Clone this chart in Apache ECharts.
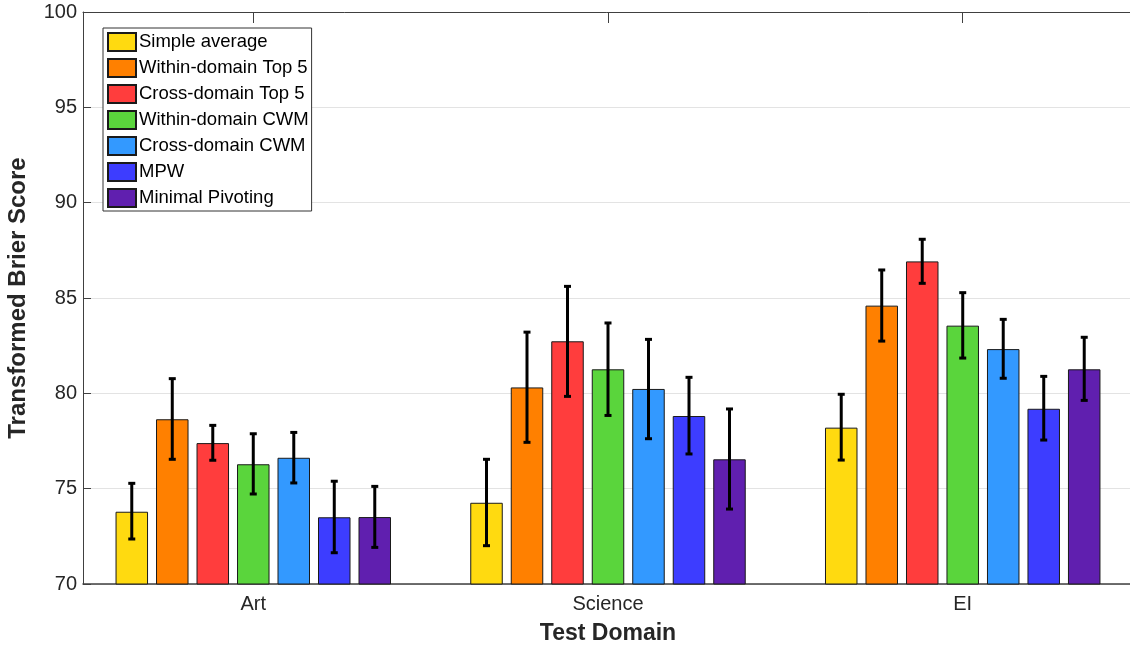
<!DOCTYPE html>
<html>
<head>
<meta charset="utf-8">
<script src="https://cdn.jsdelivr.net/npm/echarts@6/dist/echarts.min.js"></script>
<style>
  html, body { margin: 0; padding: 0; background: #fff; }
  #chart { width: 1130px; height: 648px; }
</style>
</head>
<body>
<div id="chart"></div>
<script>
// 数据
const domains = ['Art', 'Science', 'EI'];
const methods = ['Simple average', 'Within-domain Top 5', 'Cross-domain Top 5',
    'Within-domain CWM', 'Cross-domain CWM', 'MPW', 'Minimal Pivoting'];
const colors = ['#FFDA10', '#FF8000', '#FF3D3D', '#5AD53C', '#3399FF', '#3D3DFF', '#601FAF'];

// 每行一个方法，每列一个领域
const meanScores = [
    [73.79, 74.26, 78.20],
    [78.64, 80.31, 84.60],
    [77.39, 82.73, 86.92],
    [76.28, 81.26, 83.55],
    [76.62, 80.23, 82.32],
    [73.50, 78.81, 79.19],
    [73.51, 76.54, 81.26]
];
const lowerBounds = [
    [72.36, 72.01, 76.50],
    [76.54, 77.43, 82.74],
    [76.49, 79.84, 85.77],
    [74.72, 78.84, 81.85],
    [75.30, 77.62, 80.79],
    [71.64, 76.82, 77.55],
    [71.92, 73.93, 79.63]
];
const upperBounds = [
    [75.28, 76.54, 79.95],
    [80.77, 83.21, 86.47],
    [78.32, 85.61, 88.08],
    [77.88, 83.69, 85.28],
    [77.95, 82.83, 83.88],
    [75.39, 80.84, 80.89],
    [75.12, 79.18, 82.94]
];
const yTicks = [70, 75, 80, 85, 90, 95, 100];

// 样式
const FONT = 'Liberation Sans, Arial, Helvetica, sans-serif';
const AXIS_COLOR = '#404040';
const BAR_W = 32.5;
const BAR_GAP = 8;
const X_POS = domains.map((d, i) => i + 1);

const chart = echarts.init(document.getElementById('chart'));

const barSeries = methods.map((m, i) => ({
    name: m,
    type: 'bar',
    barWidth: BAR_W,
    barGap: (BAR_GAP / BAR_W * 100).toFixed(1) + '%',
    data: X_POS.map((x, j) => [x, meanScores[i][j]]),
    itemStyle: { color: colors[i], borderColor: '#1a1a1a', borderWidth: 1 },
    emphasis: { disabled: true },
    z: 2
}));

// 误差线：自定义系列，按柱子的位置偏移
const errSeries = methods.map((m, i) => {
    const offset = (i - (methods.length - 1) / 2) * (BAR_W + BAR_GAP);
    return {
        name: 'err-' + i,
        type: 'custom',
        data: X_POS.map((x, j) => [x, lowerBounds[i][j], upperBounds[i][j]]),
        encode: { x: 0, y: [1, 2] },
        z: 5,
        silent: true,
        renderItem: (params, api) => {
            const lo = api.coord([api.value(0), api.value(1)]);
            const hi = api.coord([api.value(0), api.value(2)]);
            const x = lo[0] + offset;
            const cap = 3.5;
            const style = { stroke: '#000', lineWidth: 3 };
            return {
                type: 'group',
                children: [
                    { type: 'line', shape: { x1: x, y1: lo[1], x2: x, y2: hi[1] }, style: style },
                    { type: 'line', shape: { x1: x - cap, y1: lo[1], x2: x + cap, y2: lo[1] }, style: style },
                    { type: 'line', shape: { x1: x - cap, y1: hi[1], x2: x + cap, y2: hi[1] }, style: style }
                ]
            };
        }
    };
});

const option = {
    backgroundColor: '#fff',
    animation: false,
    textStyle: { fontFamily: FONT },
    grid: { left: 83, right: -3, top: 12, bottom: 64, containLabel: false, outerBoundsMode: 'none' },
    legend: {
        data: methods,
        orient: 'vertical',
        left: 103,
        top: 28,
        padding: [4, 3, 3, 4],
        itemWidth: 28,
        itemHeight: 18,
        itemGap: 6,
        icon: 'rect',
        backgroundColor: '#fff',
        borderColor: '#333',
        borderWidth: 1,
        selectedMode: false,
        textStyle: { fontFamily: FONT, fontSize: 18.5, color: '#000', lineHeight: 18, padding: [0, 0, 0, -2] }
    },
    xAxis: [
        {
            type: 'value',
            min: 0.52,
            max: 3.48,
            name: 'Test Domain',
            nameLocation: 'middle',
            nameGap: 38,
            nameTextStyle: { fontFamily: FONT, fontSize: 23, fontWeight: 'bold', color: '#262626' },
            axisLine: { show: true, lineStyle: { color: AXIS_COLOR, width: 1.5 } },
            axisTick: { show: true, inside: true, length: 11, customValues: X_POS, lineStyle: { color: AXIS_COLOR } },
            axisLabel: {
                customValues: X_POS,
                margin: 10,
                fontFamily: FONT,
                fontSize: 20,
                color: '#262626',
                formatter: v => domains[Math.round(v) - 1] || ''
            },
            splitLine: { show: false }
        },
        {
            type: 'value',
            position: 'top',
            min: 0.52,
            max: 3.48,
            axisLine: { show: true, lineStyle: { color: AXIS_COLOR, width: 1 } },
            axisTick: { show: true, inside: true, length: 11, customValues: X_POS, lineStyle: { color: AXIS_COLOR } },
            axisLabel: { show: false },
            splitLine: { show: false }
        }
    ],
    yAxis: {
        type: 'value',
        min: yTicks[0],
        max: yTicks[yTicks.length - 1],
        interval: 5,
        name: 'Transformed Brier Score',
        nameLocation: 'middle',
        nameGap: 53,
        nameTextStyle: { fontFamily: FONT, fontSize: 24, fontWeight: 'bold', color: '#262626' },
        axisLine: { show: true, lineStyle: { color: AXIS_COLOR, width: 1 } },
        axisTick: { show: true, inside: true, length: 8, lineStyle: { color: AXIS_COLOR } },
        axisLabel: { margin: 6, fontFamily: FONT, fontSize: 20, color: '#262626' },
        splitLine: { show: true, lineStyle: { color: '#e3e3e3', width: 1 } }
    },
    series: barSeries.concat(errSeries)
};

chart.setOption(option);
</script>
</body>
</html>
